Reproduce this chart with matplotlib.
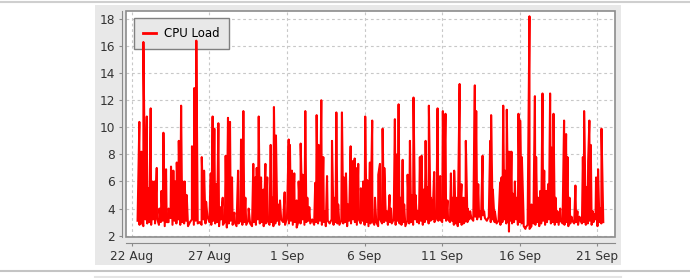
import numpy as np
import pandas as pd
import matplotlib
matplotlib.use("Agg")
import matplotlib.pyplot as plt
from matplotlib.lines import Line2D
from matplotlib.patches import Rectangle

plt.rcParams['font.family'] = "DejaVu Sans"

START = pd.Timestamp("2013-08-22")

# idle load, one row per day, a sample every 3 hours from 09:00 on 22 Aug
baseline = [
    [3.1, 2.8, 3.0, 2.7, 3.2, 2.9, 3.0, 2.8],
    [3.2, 2.9, 3.3, 2.8, 3.0, 3.1, 2.7, 3.0],
    [3.0, 3.3, 2.8, 3.1, 2.9, 3.2, 2.8, 3.0],
    [2.9, 3.1, 2.7, 3.0, 3.2, 2.8, 3.1, 2.9],
    [3.0, 2.8, 3.2, 2.9, 3.4, 3.0, 2.8, 3.1],
    [2.9, 3.0, 2.7, 3.2, 2.8, 3.0, 2.6, 2.9],
    [3.1, 2.8, 3.0, 2.7, 2.9, 3.1, 2.8, 3.0],
    [2.8, 3.1, 2.9, 2.7, 3.0, 2.8, 3.2, 2.9],
    [3.0, 2.7, 2.9, 3.1, 2.8, 3.0, 2.7, 2.9],
    [3.1, 2.8, 3.2, 3.0, 2.8, 3.3, 2.9, 3.1],
    [2.8, 3.0, 2.6, 3.1, 2.9, 3.2, 2.8, 3.0],
    [3.1, 2.9, 3.2, 2.8, 3.0, 2.9, 3.1, 2.8],
    [3.0, 2.7, 3.1, 2.9, 3.2, 2.8, 3.0, 2.9],
    [2.8, 3.1, 2.9, 3.0, 2.7, 3.1, 2.9, 3.2],
    [3.0, 2.8, 3.2, 2.9, 3.1, 2.8, 3.0, 2.7],
    [2.9, 3.1, 2.8, 3.0, 2.7, 3.2, 2.9, 3.0],
    [3.1, 2.8, 3.0, 2.9, 3.2, 2.8, 3.1, 2.9],
    [2.8, 3.0, 2.7, 3.1, 2.9, 3.0, 2.8, 3.2],
    [3.0, 2.9, 3.1, 2.8, 3.0, 3.2, 2.9, 3.1],
    [3.2, 3.0, 3.3, 3.1, 3.2, 3.0, 3.3, 3.1],
    [3.2, 3.0, 3.1, 2.8, 2.9, 2.7, 3.0, 2.8],
    [2.9, 3.1, 3.0, 3.2, 3.3, 3.1, 3.4, 3.2],
    [3.4, 3.2, 3.5, 3.3, 3.1, 3.4, 3.0, 3.2],
    [3.0, 2.9, 3.1, 2.8, 3.0, 3.2, 2.9, 3.0],
    [3.1, 2.9, 3.0, 3.2, 2.8, 3.0, 2.9, 2.7],
    [2.6, 2.8, 2.5, 2.7, 2.9, 2.8, 3.0, 2.7],
    [2.9, 3.1, 2.8, 3.0, 3.2, 2.9, 3.0, 2.8],
    [3.0, 2.8, 3.1, 2.9, 2.8, 3.0, 2.7, 2.9],
    [3.1, 2.9, 3.0, 2.8, 3.2, 2.9, 3.0, 2.8],
    [2.9, 3.1, 2.8, 3.0, 3.2, 2.7, 3.0, 2.9],
    [3.0],
]

# load peaks: days after 22 Aug 00:00 and the value reached
spike_days = [
    0.49, 0.62, 0.75, 0.84, 0.97, 1.05, 1.22, 1.35, 1.48, 1.61, 1.78, 1.91,
    2.04, 2.21, 2.38, 2.53, 2.68, 2.81, 2.90, 3.03, 3.18, 3.28, 3.41, 3.54,
    3.88, 4.03, 4.16, 4.51, 4.66, 4.79, 5.09, 5.21, 5.32, 5.45, 5.58, 5.71,
    5.86, 6.05, 6.20, 6.33, 6.46, 6.61, 6.85, 7.04, 7.19, 7.32, 7.53, 7.83,
    7.96, 8.05, 8.18, 8.33, 8.48, 8.61, 8.73, 8.95, 9.08, 9.16, 9.29, 9.42,
    9.55, 9.85, 10.11, 10.19, 10.32, 10.47, 10.62, 10.75, 10.88, 11.01, 11.18, 11.31,
    11.44, 11.82, 11.91, 12.04, 12.21, 12.34, 12.47, 12.58, 12.90, 13.03, 13.18, 13.30,
    13.54, 13.67, 13.80, 13.93, 14.10, 14.23, 14.36, 14.44, 14.59, 14.76, 14.91, 15.04,
    15.17, 15.34, 15.49, 15.67, 15.88, 15.99, 16.16, 16.27, 16.44, 16.61, 16.70, 16.95,
    17.08, 17.19, 17.30, 17.45, 17.55, 17.77, 17.92, 18.03, 18.15, 18.28, 18.41, 18.56,
    18.67, 18.80, 18.93, 19.01, 19.14, 19.27, 19.36, 19.48, 19.70, 19.79, 19.87, 20.04,
    20.13, 20.21, 20.34, 20.56, 20.64, 20.77, 20.90, 21.12, 21.24, 21.37, 21.52, 21.63,
    21.80, 22.10, 22.19, 22.32, 22.45, 22.60, 22.70, 23.09, 23.15, 23.26, 23.39, 23.73,
    23.82, 23.93, 24.04, 24.16, 24.25, 24.30, 24.36, 24.46, 24.55, 24.68, 24.81, 24.91,
    25.02, 25.13, 25.24, 25.36, 25.62, 25.75, 25.88, 25.97, 26.05, 26.18, 26.31, 26.46,
    26.57, 26.70, 26.82, 26.95, 27.04, 27.17, 27.30, 27.42, 27.60, 27.85, 27.98, 28.07,
    28.20, 28.33, 28.58, 28.71, 28.84, 29.06, 29.14, 29.27, 29.40, 29.48, 29.57, 29.70,
    29.83, 29.91, 30.04, 30.17, 30.26,
]
spike_load = [
    10.4, 8.2, 16.3, 6.3, 10.8, 5.5, 11.4, 6.0, 6.0, 7.0, 4.0, 5.3,
    9.6, 6.9, 4.0, 7.1, 6.8, 6.0, 7.4, 9.0, 11.6, 6.0, 6.0, 5.0,
    8.6, 12.9, 16.4, 7.8, 6.8, 4.5, 6.6, 10.8, 9.9, 5.8, 10.3, 4.1,
    4.8, 7.9, 10.7, 10.4, 6.3, 3.7, 6.8, 9.1, 11.2, 4.8, 4.0, 7.3,
    6.3, 7.0, 10.8, 6.3, 5.4, 7.3, 6.3, 8.7, 4.8, 11.5, 9.4, 4.3,
    4.6, 5.2, 9.1, 8.7, 6.8, 6.6, 4.6, 6.0, 8.8, 6.5, 11.2, 4.8,
    4.1, 5.9, 10.9, 8.7, 12.0, 7.8, 3.8, 6.4, 9.0, 4.8, 11.1, 4.3,
    11.1, 6.3, 6.6, 4.3, 8.6, 7.5, 7.7, 7.0, 7.3, 5.5, 6.0, 10.8,
    6.1, 7.4, 10.5, 4.8, 6.5, 7.3, 9.9, 7.0, 3.8, 5.0, 4.0, 10.6,
    8.0, 11.7, 4.8, 7.6, 4.3, 6.5, 9.0, 5.0, 12.2, 5.0, 3.8, 7.8,
    7.9, 5.4, 9.0, 5.6, 11.6, 4.8, 4.0, 6.7, 11.4, 6.0, 6.4, 11.2,
    6.3, 11.0, 4.6, 6.6, 4.8, 6.8, 4.8, 13.2, 5.8, 4.8, 9.0, 4.0,
    3.8, 13.1, 11.2, 5.8, 3.8, 7.9, 3.8, 9.0, 10.9, 5.4, 3.8, 5.9,
    6.3, 11.6, 6.8, 11.3, 8.2, 2.3, 8.2, 8.2, 5.1, 6.0, 4.8, 11.0,
    10.5, 7.8, 3.4, 2.5, 18.2, 4.3, 3.8, 12.3, 7.8, 4.8, 5.3, 12.5,
    6.8, 5.3, 5.8, 12.5, 8.5, 11.0, 4.8, 3.8, 4.0, 10.5, 9.5, 7.8,
    4.8, 3.4, 5.7, 3.8, 3.4, 7.8, 11.2, 5.6, 7.5, 10.5, 8.7, 3.8,
    3.6, 6.3, 6.9, 4.0, 9.9,
]

tick_dates = ["2013-08-22", "2013-08-27", "2013-09-01", "2013-09-06",
              "2013-09-11", "2013-09-16", "2013-09-21"]
tick_labels = ["22 Aug", "27 Aug", "1 Sep", "6 Sep", "11 Sep", "16 Sep", "21 Sep"]
y_ticks = [2, 4, 6, 8, 10, 12, 14, 16, 18]

# one series sorted by time
base_vals = [v for row in baseline for v in row]
base_days = 0.375 + 0.125 * np.arange(len(base_vals))
days = np.concatenate([base_days, spike_days])
load = np.concatenate([base_vals, spike_load])
order = np.argsort(days, kind="stable")
times = START + pd.to_timedelta(days[order], unit="D")
load = load[order]

W, H = 690, 278
fig = plt.figure(figsize=(W / 100, H / 100), dpi=100)

# grey chart panel and page rules
fig.patches.append(Rectangle((95 / W, 1 - 265 / H), 526 / W, 260 / H,
                             transform=fig.transFigure, facecolor="#e8e8e8",
                             edgecolor="none", zorder=-10))
for y, x0, x1, c in [(1.5, 0, W, "#cfcfcf"), (271, 0, W, "#c4c4c4"), (276.5, 95, 621, "#e4e4e4")]:
    fig.add_artist(Line2D([x0 / W, x1 / W], [1 - y / H] * 2, transform=fig.transFigure,
                          color=c, lw=1.5, zorder=-10))

ax = fig.add_axes([126 / W, 1 - 237 / H, 489 / W, 226 / H])
ax.set_zorder(1)
ax.set_facecolor("white")

ax.plot(times, load, color="red", lw=1.5, zorder=3)

ax.set_xlim(START - pd.Timedelta(days=0.37), START + pd.Timedelta(days=31.13))
ax.set_ylim(1.9, 18.59)
ax.set_xticks(pd.to_datetime(tick_dates), tick_labels)
ax.set_yticks(y_ticks, [str(v) for v in y_ticks])

ax.set_axisbelow(True)
ax.grid(True, color="#c8c8c8", linestyle=(0, (2.5, 2.5)), linewidth=0.8)

for side in ["top", "right"]:
    ax.spines[side].set_visible(False)
ax.spines["left"].set_position(("outward", 3))
ax.spines["bottom"].set_position(("outward", 4.5))
for side in ["left", "bottom"]:
    ax.spines[side].set_color("#8a8a8a")
    ax.spines[side].set_linewidth(0.8)
ax.tick_params(direction="out", length=2.5, width=0.8, color="#8a8a8a",
               labelsize=8.7, labelcolor="#333333", pad=2.5)

# plot outline
ax.add_patch(Rectangle((0, 0), 1, 1, transform=ax.transAxes, fill=False,
                       edgecolor="#8c8c8c", lw=1.2, clip_on=False, zorder=5))

# legend sits under the line, the tall spikes cross it
handle = Line2D([], [], color="red", lw=2)
leg = ax.legend([handle], ["CPU Load"], loc="upper left",
                bbox_to_anchor=(8 / 489, 1 - 7 / 226), borderaxespad=0,
                frameon=True, fancybox=False, facecolor="#e8e8e8",
                edgecolor="#808080", framealpha=1, fontsize=8.5,
                handlelength=1.1, handletextpad=0.7, borderpad=0.75)
leg.get_frame().set_linewidth(1.0)
leg.set_zorder(2)

fig.savefig("out.png", dpi=100)
